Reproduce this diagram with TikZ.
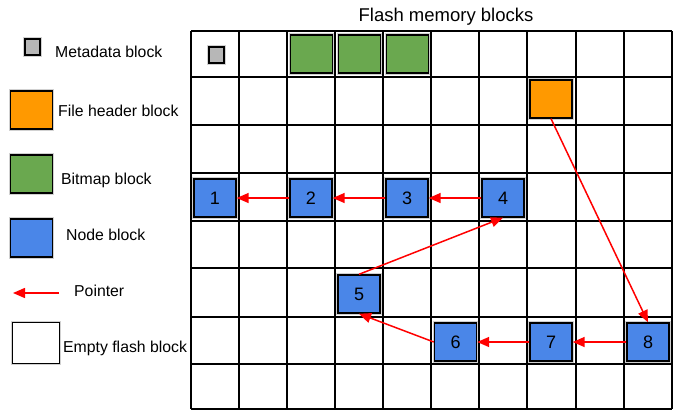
\documentclass[tikz,border=0pt]{standalone}
\usepackage{fontspec}
\setmainfont{Liberation Sans}
\usetikzlibrary{arrows.meta}

\definecolor{nodeblue}{HTML}{4A86E8}
\definecolor{bitgreen}{HTML}{6AA84F}
\definecolor{hdrorange}{HTML}{FF9900}
\definecolor{metagrey}{HTML}{B7B7B7}
\definecolor{ptrred}{HTML}{FF0000}

\tikzset{
  block/.style={draw=black, line width=1.4pt, inner sep=0pt,
    minimum width=42pt, minimum height=38pt,
    preaction={draw=black!18, line width=3.8pt},
    font=\fontsize{18}{20}\selectfont},
  nodeblk/.style={block, fill=nodeblue},
  bitblk/.style={block, fill=bitgreen},
  hdrblk/.style={block, fill=hdrorange},
  metablk/.style={block, fill=metagrey, minimum width=15pt, minimum height=16pt},
  emptyblk/.style={block, fill=white, minimum width=47pt, minimum height=41pt},
  legtext/.style={anchor=base west, inner sep=0pt, font=\fontsize{15.8}{18}\selectfont},
  gridline/.style={line width=1.6pt, black},
  pointer/.style={ptrred, line width=1.5pt, -{Triangle[length=12pt,width=10pt]}}
}

\begin{document}
\begin{tikzpicture}[x=1pt,y=-1pt]
  \useasboundingbox (0,0) rectangle (674,410);
  \foreach \gx in {191,239,287,335,383,431,479,527,576,624,672}
    \draw[gridline] (\gx,31) -- (\gx,409);
  \foreach \gy in {31,77,125,173,221,268,317,364,409}
    \draw[gridline] (191,\gy) -- (672,\gy);

  \node[anchor=base, font=\fontsize{18.5}{22}\selectfont] (title) at (446,21) {Flash memory blocks};

  \node[metablk] (meta) at (216.5,55) {};
  \node[bitblk] (bit1) at (311.5,54) {};
  \node[bitblk] (bit2) at (359.5,54) {};
  \node[bitblk] (bit3) at (407.5,54) {};
  \node[hdrblk] (hdr) at (551,99) {};

  \node[nodeblk] (n1) at (215,198) {1};
  \node[nodeblk] (n2) at (311,198) {2};
  \node[nodeblk] (n3) at (407,198) {3};
  \node[nodeblk] (n4) at (503,198) {4};
  \node[nodeblk] (n5) at (359,294) {5};
  \node[nodeblk] (n6) at (455.5,342) {6};
  \node[nodeblk] (n7) at (551,342) {7};
  \node[nodeblk] (n8) at (648,342) {8};

  \begin{scope}[pointer]
    \draw (hdr.south) -- (n8.north);
    \draw (n8.west) -- (n7.east);
    \draw (n7.west) -- (n6.east);
    \draw (n6.west) -- (n5.south);
    \draw (n5.north) -- (n4.south);
    \draw (n4.west) -- (n3.east);
    \draw (n3.west) -- (n2.east);
    \draw (n2.west) -- (n1.east);
  \end{scope}

  \node[metablk] (legmeta) at (32.5,47) {};
  \node[legtext] (legmetatext) at (55,57) {Metadata block};
  \node[hdrblk] (leghdr) at (31.5,110) {};
  \node[legtext] (leghdrtext) at (58,116) {File header block};
  \node[bitblk] (legbit) at (31.5,174) {};
  \node[legtext] (legbittext) at (61,184) {Bitmap block};
  \node[nodeblk] (legnode) at (31.5,238) {};
  \node[legtext] (legnodetext) at (66,240) {Node block};
  \coordinate (legptrstart) at (59,293);
  \coordinate (legptrend) at (13,293);
  \draw[pointer] (legptrstart) -- (legptrend);
  \node[legtext] (legptrtext) at (74,296) {Pointer};
  \node[emptyblk] (legempty) at (36,343) {};
  \node[legtext] (legemptytext) at (63,352) {Empty flash block};
\end{tikzpicture}
\end{document}
